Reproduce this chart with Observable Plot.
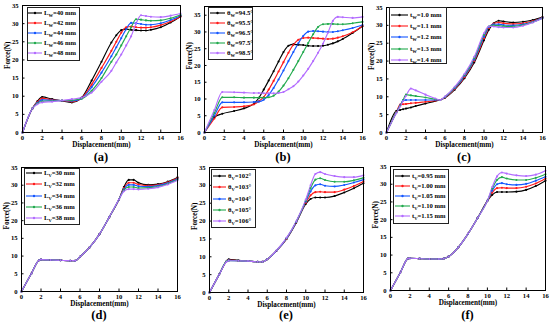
<!DOCTYPE html>
<html><head><meta charset="utf-8">
<script src="https://cdn.jsdelivr.net/npm/d3@7"></script>
<script src="https://cdn.jsdelivr.net/npm/@observablehq/plot@0.6"></script>
<style>
body{margin:0;background:#fff;width:550px;height:326px;position:relative;overflow:hidden;font-family:"Liberation Serif","Times New Roman",serif;}
.cell{position:absolute;}
.cap{position:absolute;font-weight:bold;font-size:12.5px;line-height:14px;transform:translate(-50%,-50%);white-space:nowrap;}
.leg{position:absolute;border:1px solid #222;background:#fff;box-sizing:border-box;}
.row{position:absolute;left:0;height:10px;display:flex;align-items:center;white-space:nowrap;font-weight:bold;font-size:6.6px;line-height:10px;}
.row svg{flex:none;}
.row sub{font-size:4.6px;vertical-align:-1.5px;line-height:0;}
</style></head><body>
<script>
// ---------- data ----------
const X_TICKS = [0,2,4,6,8,10,12,14,16];
const Y_TICKS = [0,5,10,15,20,25,30,35];
const COLORS = ["#000000","#ff1a1a","#1457ff","#22aa4e","#b36cff"];
const CAPTIONS = ["(a)","(b)","(c)","(d)","(e)","(f)"];

// (a) L_W
const xA = [0,1,1.5,2,3,4,5,6,7,8,9,9.5,10,10.5,11,11.5,12,12.5,13,14,15,16];
const a40 = [0,6.6,8.6,9.8,9.2,8.7,8.3,9.6,14.3,19.5,24.8,26.8,28.2,28.5,28.3,28.2,28.1,28.1,28.3,29.0,30.3,32.0];
const a42 = [0,6.6,8.4,9.4,9.0,8.8,8.5,9.5,13.2,17.8,22.5,25.0,27.5,29.0,29.2,29.0,28.9,28.9,29.0,29.6,30.6,32.0];
const a44 = [0,6.6,8.2,9.0,8.9,8.8,8.7,9.4,12.5,16.5,21.0,23.5,26.0,28.5,30.2,30.1,29.9,29.7,29.7,30.1,31.0,32.2];
const a46 = [0,6.6,8.0,8.6,8.7,8.8,8.9,9.3,11.5,15.0,19.5,21.5,24.0,26.5,29.0,31.2,31.1,30.9,30.8,30.9,31.5,32.4];
const a48 = [0,6.6,7.8,8.3,8.5,8.8,9.2,9.6,11.0,14.0,17.0,19.3,21.5,24.0,26.5,30.0,32.3,32.1,31.9,31.8,32.2,32.8];
const aSym = "L", aSub = "W", aVals = ["40 mm","42 mm","44 mm","46 mm","48 mm"];

// (b) theta_W
const xB = [0,1,1.8,3,4,5,5.5,6,6.5,7,7.5,8,8.5,9,9.5,10,10.5,11,11.5,12,12.5,13,13.5,14,15,16];
const b945 = [0,4.6,5.6,6.4,7.2,8.6,10.3,12.8,15.5,18.3,21.2,24.0,25.9,26.3,26.2,26.1,25.9,25.8,25.8,25.9,26.2,26.6,27.2,27.9,29.7,31.7];
const b955 = [0,4.2,7.5,7.6,7.8,8.4,9.3,10.6,12.8,15.4,18.2,21.0,23.8,26.2,27.7,28.2,28.3,28.2,28.1,28.0,27.9,28.0,28.3,28.7,29.9,31.8];
const b965 = [0,5.0,9.0,9.0,9.0,9.1,9.2,9.8,11.2,13.3,15.8,18.5,21.3,24.0,26.6,28.8,30.1,30.3,30.2,30.1,30.0,30.0,30.2,30.5,31.2,32.1];
const b975 = [0,5.8,10.5,10.5,10.4,10.4,10.4,10.4,10.5,11.0,12.2,14.0,16.2,18.7,21.3,24.0,26.7,29.3,31.5,32.3,32.4,32.4,32.3,32.3,32.6,33.0];
const b985 = [0,6.7,12.1,12.0,11.9,11.8,11.8,11.7,11.7,11.7,11.8,12.1,12.9,13.8,15.2,17.0,19.0,21.3,23.8,26.5,29.8,33.3,34.5,34.4,34.2,34.5];
const bSym = "θ", bSub = "W", bVals = ["94.5°","95.5°","96.5°","97.5°","98.5°"];

// (c) t_W
const xC = [0,1,1.4,1.7,2,2.5,3,4,5,5.5,6,7,8,9,10,10.5,11,11.5,12,13,14,15,16];
const c10 = [0,6.0,6.3,6.5,6.7,7.0,7.4,8.1,8.8,9.1,9.7,12.0,15.2,19.6,25.8,28.8,30.6,31.3,31.1,30.8,31.0,31.5,32.3];
const c11 = [0,5.7,7.8,7.9,8.0,8.2,8.3,8.6,8.9,9.1,9.8,12.2,15.5,20.0,26.3,29.2,30.5,30.8,30.6,30.4,30.6,31.2,32.2];
const c12 = [0,5.6,7.6,9.0,9.1,9.1,9.1,9.1,9.1,9.1,9.9,12.4,15.8,20.4,26.8,29.5,30.3,30.3,30.1,30.0,30.3,31.0,32.1];
const c13 = [0,5.5,7.5,9.1,10.6,10.4,10.2,9.8,9.3,9.1,10.0,12.6,16.1,20.8,27.3,29.7,30.0,29.9,29.8,29.7,30.1,30.9,32.0];
const c14 = [0,5.4,7.3,8.8,10.3,12.3,11.8,10.6,9.5,9.1,10.1,12.8,16.4,21.2,27.8,29.7,29.7,29.5,29.4,29.4,29.9,30.8,32.0];
const cSym = "t", cSub = "W", cVals = ["1.0 mm","1.1 mm","1.2 mm","1.3 mm","1.4 mm"];

// (d) L_V
const xD = [0,1,1.8,2,3,4,5,5.5,6,7,8,9,10,10.5,11,11.5,12,13,14,15,16];
const d30 = [0,5.0,8.8,9.0,8.9,8.8,8.7,8.7,9.8,12.5,16.2,21.0,26.0,29.5,31.5,31.5,30.7,30.1,30.3,31.0,32.2];
const d32 = [0,5.0,8.8,9.0,8.9,8.8,8.7,8.7,9.8,12.5,16.2,21.0,26.0,29.2,30.7,30.7,30.2,29.9,30.1,30.8,32.0];
const d34 = [0,5.0,8.8,9.0,8.9,8.8,8.7,8.7,9.8,12.5,16.2,21.0,26.0,28.9,30.1,30.1,29.7,29.6,29.9,30.6,31.8];
const d36 = [0,5.0,8.8,9.0,8.9,8.8,8.7,8.7,9.8,12.5,16.2,21.0,26.0,28.6,29.5,29.5,29.2,29.3,29.6,30.4,31.6];
const d38 = [0,5.0,8.8,9.0,8.9,8.8,8.7,8.7,9.8,12.5,16.2,21.0,26.0,28.3,28.9,28.9,28.8,29.0,29.4,30.2,31.4];
const dSym = "L", dSub = "V", dVals = ["30 mm","32 mm","34 mm","36 mm","38 mm"];

// (e) theta_V
const xE = [0,1,1.8,2,3,4,5,5.5,6,7,8,9,10,10.5,11,11.5,12,13,14,15,16];
const e102 = [0,5.0,8.9,9.3,9.0,8.8,8.6,8.6,9.3,11.8,15.0,19.5,24.8,26.2,26.6,26.6,26.6,27.0,28.0,29.2,30.6];
const e103 = [0,5.0,8.8,9.1,8.9,8.8,8.6,8.6,9.3,11.8,15.0,19.6,25.1,27.2,28.1,28.2,28.1,28.1,28.8,29.8,31.1];
const e104 = [0,5.0,8.8,9.0,8.9,8.8,8.6,8.6,9.3,11.8,15.1,19.7,25.4,28.3,30.0,30.3,29.9,29.7,30.1,30.8,31.6];
const e105 = [0,5.0,8.8,8.9,8.9,8.8,8.6,8.6,9.3,11.9,15.2,19.8,25.7,29.2,31.6,32.0,31.5,31.0,31.0,31.4,32.1];
const e106 = [0,5.0,8.7,8.9,8.9,8.8,8.6,8.6,9.3,11.9,15.3,19.9,26.0,30.0,33.2,33.7,33.2,32.6,32.3,32.3,32.8];
const eSym = "θ", eSub = "V", eVals = ["102°","103°","104°","105°","106°"];

// (f) t_V
const xF = [0,1,1.8,2,3,4,5,5.5,6,7,8,9,10,10.5,11,11.5,12,13,14,15,16];
const f095 = [0,5.0,9.0,9.1,9.0,8.9,8.9,9.0,9.6,12.2,16.0,20.5,25.3,27.0,27.8,27.8,27.8,27.9,28.4,29.5,31.0];
const f100 = [0,5.0,9.0,9.1,9.0,8.9,8.9,9.0,9.6,12.2,16.0,20.5,25.3,27.6,28.9,29.0,28.9,28.9,29.3,30.2,31.6];
const f105 = [0,5.0,9.0,9.1,9.0,8.9,8.9,9.0,9.6,12.2,16.0,20.5,25.3,28.2,30.0,30.3,30.0,29.8,30.1,31.0,32.1];
const f110 = [0,5.0,9.0,9.1,9.0,8.9,8.9,9.0,9.6,12.2,16.0,20.5,25.3,28.7,31.2,32.0,31.6,31.2,31.2,31.8,32.8];
const f115 = [0,5.0,9.0,9.1,9.0,8.9,8.9,9.0,9.6,12.2,16.0,20.5,25.3,29.2,32.2,33.3,33.0,32.5,32.3,32.7,33.8];
const fSym = "t", fSub = "V", fVals = ["0.95 mm","1.00 mm","1.05 mm","1.10 mm","1.15 mm"];

// ---------- layout ----------
const panels = [
  {x:xA, ys:[a40,a42,a44,a46,a48], sym:aSym, sub:aSub, vals:aVals, left:0, top:0, w:183, h:150, mL:22, mR:3, mT:5, mB:18, yMax:35, labDy:14.5, capY:157,
   leg:{l:27,t:7,w:53,h:54,first:13,step:10,lx:1,ll:14}},
  {x:xB, ys:[b945,b955,b965,b975,b985], sym:bSym, sub:bSub, vals:bVals, left:183, top:0, w:183, h:150, mL:21, mR:4, mT:6, mB:18, yMax:37.6, labDy:14.5, capY:157,
   leg:{l:208,t:7,w:45,h:53,first:13,step:10,lx:2,ll:15}},
  {x:xC, ys:[c10,c11,c12,c13,c14], sym:cSym, sub:cSub, vals:cVals, left:366, top:0, w:184, h:150, mL:20, mR:8, mT:7, mB:18, yMax:35, labDy:14.5, capY:157,
   leg:{l:389,t:7,w:58,h:57,first:15,step:11.2,lx:2,ll:17}},
  {x:xD, ys:[d30,d32,d34,d36,d38], sym:dSym, sub:dSub, vals:dVals, left:0, top:163, w:183, h:150, mL:21, mR:6, mT:4, mB:22, yMax:35, labDy:14, capY:315,
   leg:{l:24,t:168,w:56,h:57,first:173,step:11.3,lx:2,ll:16}},
  {x:xE, ys:[e102,e103,e104,e105,e106], sym:eSym, sub:eSub, vals:eVals, left:183, top:163, w:183, h:150, mL:26, mR:3, mT:4, mB:21, yMax:35, labDy:14, capY:315,
   leg:{l:211,t:169,w:45,h:59,first:176,step:11.3,lx:2,ll:13}},
  {x:xF, ys:[f095,f100,f105,f110,f115], sym:fSym, sub:fSub, vals:fVals, left:366, top:163, w:184, h:150, mL:24, mR:5, mT:3, mB:23, yMax:35, labDy:14, capY:315,
   leg:{l:393,t:169,w:56,h:55,first:176,step:10,lx:2,ll:15}}
];

const FONT = '"Liberation Serif","Times New Roman",serif';

panels.forEach((p, k) => {
  const names = p.vals.map(v => p.sym + p.sub + "=" + v);
  const rows = [];
  p.ys.forEach((ys, i) => ys.forEach((y, j) => rows.push({x: p.x[j], y, s: names[i]})));
  const chart = Plot.plot({
    width: p.w, height: p.h,
    marginLeft: p.mL, marginRight: p.mR, marginTop: p.mT, marginBottom: p.mB,
    x: {domain: [0, 16], label: null},
    y: {domain: [0, p.yMax], label: null},
    color: {type: "ordinal", domain: names, range: COLORS},
    style: {fontFamily: FONT, fontWeight: "bold", fontSize: "6.6px", color: "#000", background: "transparent", overflow: "visible"},
    marks: [
      Plot.line(rows, {x: "x", y: "y", z: "s", stroke: "s", strokeWidth: 1.15, curve: "monotone-x"}),
      Plot.dot(rows, {x: "x", y: "y", fill: "s", r: 1.05}),
      Plot.frame({stroke: "#000", strokeWidth: 1}),
      Plot.axisX({ticks: X_TICKS, tickSize: -2.5, tickPadding: 5, fontSize: 6.6, fontWeight: "bold", label: null}),
      Plot.axisY({ticks: Y_TICKS, tickSize: -2.5, tickPadding: 6.5, fontSize: 6.6, fontWeight: "bold", label: null}),
      Plot.text(["Displacement(mm)"], {text: d => d, frameAnchor: "bottom", dy: p.labDy, fontSize: 7.2, fontWeight: "bold", fill: "#000"}),
      Plot.text(["Force(N)"], {text: d => d, frameAnchor: "left", dx: -15, rotate: -90, fontSize: 7.2, fontWeight: "bold", fill: "#000"})
    ]
  });
  const cell = document.createElement("div");
  cell.className = "cell";
  cell.style.left = p.left + "px";
  cell.style.top = p.top + "px";
  cell.appendChild(chart);
  document.body.appendChild(cell);

  // caption
  const cap = document.createElement("div");
  cap.className = "cap";
  cap.textContent = CAPTIONS[k];
  const cx = p.left + p.mL + (p.w - p.mL - p.mR) / 2;
  cap.style.left = cx + "px";
  cap.style.top = p.capY + "px";
  document.body.appendChild(cap);

  // legend
  const L = p.leg;
  const box = document.createElement("div");
  box.className = "leg";
  box.style.left = L.l + "px"; box.style.top = L.t + "px";
  box.style.width = L.w + "px"; box.style.height = L.h + "px";
  p.vals.forEach((v, i) => {
    const r = document.createElement("div");
    r.className = "row";
    r.style.top = (L.first + i * L.step - L.t - 1 - 5) + "px";
    r.style.left = (L.lx - 1) + "px";
    const col = COLORS[i];
    r.innerHTML = `<svg width="${L.ll + 2}" height="10"><line x1="0" x2="${L.ll}" y1="5" y2="5" stroke="${col}" stroke-width="1.1"/><circle cx="${L.ll/2}" cy="5" r="1.2" fill="${col}"/></svg><span>${p.sym}<sub>${p.sub}</sub>=${v}</span>`;
    box.appendChild(r);
  });
  document.body.appendChild(box);
});
</script>
</body></html>
